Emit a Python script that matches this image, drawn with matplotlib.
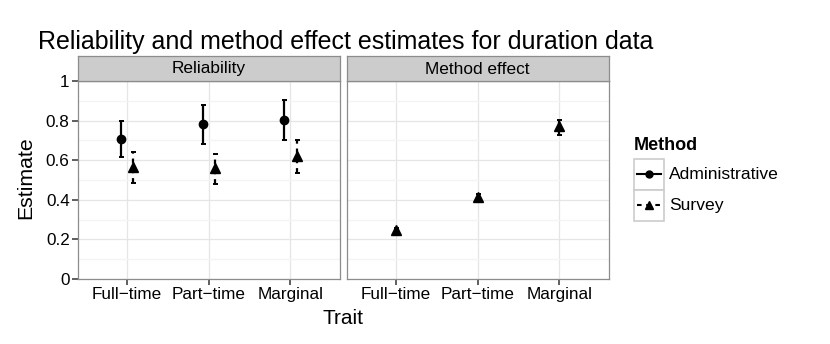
import matplotlib
matplotlib.use("Agg")
import matplotlib.pyplot as plt
from matplotlib.patches import Rectangle
from matplotlib.lines import Line2D
import numpy as np

plt.rcParams['font.family'] = ['Liberation Sans', 'DejaVu Sans']

traits = ["Full\u2212time", "Part\u2212time", "Marginal"]
panels = ["Reliability", "Method effect"]
methods = ["Administrative", "Survey"]

# Reliability panel
rel_admin = [0.708, 0.781, 0.804]
rel_admin_lo = [0.616, 0.682, 0.704]
rel_admin_hi = [0.797, 0.878, 0.902]
rel_survey = [0.567, 0.562, 0.622]
rel_survey_lo = [0.487, 0.479, 0.536]
rel_survey_hi = [0.641, 0.630, 0.704]

# Method effect panel (survey only)
me_survey = [0.245, 0.412, 0.772]
me_survey_lo = [0.233, 0.397, 0.725]
me_survey_hi = [0.256, 0.428, 0.805]

yticks = [0, 0.2, 0.4, 0.6, 0.8, 1.0]
ytick_labels = ["0", "0.2", "0.4", "0.6", "0.8", "1"]

W, H = 830, 344
fig = plt.figure(figsize=(W / 100, H / 100), dpi=100)

def px_axes(x0, y0, x1, y1, **kw):
    return fig.add_axes([x0 / W, 1 - y1 / H, (x1 - x0) / W, (y1 - y0) / H], **kw)

panel_x = [(78, 339.5), (346.5, 608.5)]
ptop, pbot = 81, 279
stop = 56

grid_major = '#e5e5e5'
grid_minor = '#f4f4f4'
border = '#8c8c8c'
tick_fs = 12.3

def style_axis(ax, show_y):
    ax.set_xlim(0.4, 3.6)
    ax.set_ylim(0, 1)
    ax.set_yticks(yticks)
    ax.set_yticks([0.1, 0.3, 0.5, 0.7, 0.9], minor=True)
    ax.set_xticks([1, 2, 3])
    ax.set_xticklabels(traits, fontsize=tick_fs)
    ax.grid(True, which='major', color=grid_major, lw=0.9)
    ax.grid(True, which='minor', axis='y', color=grid_minor, lw=0.9)
    ax.set_axisbelow(True)
    for s in ax.spines.values():
        s.set_color(border)
        s.set_linewidth(0.9)
    ax.tick_params(axis='both', which='major', length=4, width=1.1, color='#333333',
                   labelcolor='black', pad=2)
    ax.tick_params(axis='y', which='minor', length=0)
    if show_y:
        ax.set_yticklabels(ytick_labels, fontsize=tick_fs)
    else:
        ax.tick_params(axis='y', which='major', length=0, labelleft=False)

def errbar(ax, x, y, lo, hi, marker, ms, dashed):
    y = np.array(y); lo = np.array(lo); hi = np.array(hi)
    line, caps, bars = ax.errorbar(x, y, yerr=[y - lo, hi - y], fmt=marker, ms=ms,
                                   color='black', ecolor='black', elinewidth=1.6,
                                   capsize=1.8, capthick=1.4, zorder=3)
    if dashed:
        for b in bars:
            b.set_linestyle((0, (2.2, 2.2)))

xs = np.arange(1, 4)
dodge = 0.075

# Panel 1
ax1 = px_axes(panel_x[0][0], ptop, panel_x[0][1], pbot)
style_axis(ax1, True)
errbar(ax1, xs - dodge, rel_admin, rel_admin_lo, rel_admin_hi, 'o', 6.0, False)
errbar(ax1, xs + dodge, rel_survey, rel_survey_lo, rel_survey_hi, '^', 6.5, True)

# Panel 2
ax2 = px_axes(panel_x[1][0], ptop, panel_x[1][1], pbot)
style_axis(ax2, False)
errbar(ax2, xs, me_survey, me_survey_lo, me_survey_hi, '^', 6.5, True)

# Strips
for (x0, x1), name in zip(panel_x, panels):
    sa = px_axes(x0, stop, x1, ptop)
    sa.set_xticks([]); sa.set_yticks([])
    sa.set_facecolor('#cccccc')
    for s in sa.spines.values():
        s.set_color(border)
        s.set_linewidth(0.9)
    sa.text(0.5, 0.48, name, ha='center', va='center', fontsize=12.4, transform=sa.transAxes)

# Title and axis labels
fig.text(38 / W, 1 - 42 / H, "Reliability and method effect estimates for duration data",
         fontsize=18, ha='left', va='center')
fig.text(26 / W, 1 - 178 / H, "Estimate", rotation=90, fontsize=15.3, ha='center', va='center')
fig.text(343 / W, 1 - 318 / H, "Trait", fontsize=15, ha='center', va='center')

# Legend
lg = px_axes(630, 130, 800, 230)
lg.set_xlim(630, 800)
lg.set_ylim(230, 130)
lg.axis('off')
lg.text(634, 146, "Method", fontsize=13, fontweight='bold', ha='left', va='center')
key_styles = [('o', '-', 5.0), ('^', (0, (2.2, 2.2)), 5.5)]
for i, (m, (mk, ls, ms)) in enumerate(zip(methods, key_styles)):
    y0 = 159 + i * 31
    lg.add_patch(Rectangle((634, y0), 30, 31, facecolor='white', edgecolor='#cccccc', lw=1.2))
    lg.add_line(Line2D([637, 661], [y0 + 15.5, y0 + 15.5], color='black', lw=1.5, ls=ls))
    lg.add_line(Line2D([649], [y0 + 15.5], color='black', marker=mk, ms=ms))
    lg.text(669, y0 + 15.5, m, fontsize=12.6, ha='left', va='center')

fig.savefig("out.png", dpi=100)
